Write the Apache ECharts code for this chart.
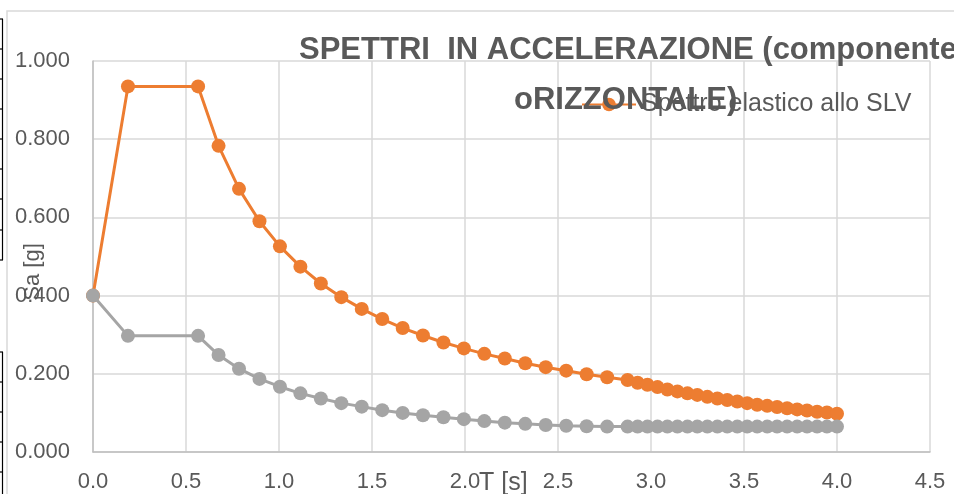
<!DOCTYPE html>
<html>
<head>
<meta charset="utf-8">
<script src="https://cdn.jsdelivr.net/npm/echarts@6/dist/echarts.min.js"></script>
<style>
html,body{margin:0;padding:0;background:#fff;}
#chart{width:954px;height:494px;}
</style>
</head>
<body>
<div id="chart"></div>
<script>
// Periods T [s]
const periods = [0, 0.188, 0.565, 0.675, 0.785, 0.895, 1.005, 1.115, 1.225, 1.335, 1.445, 1.555, 1.665, 1.774, 1.884, 1.994, 2.104, 2.214, 2.324, 2.434, 2.544, 2.654, 2.764, 2.874, 2.928, 2.981, 3.035, 3.088, 3.142, 3.196, 3.249, 3.303, 3.357, 3.410, 3.464, 3.517, 3.571, 3.625, 3.678, 3.732, 3.786, 3.839, 3.893, 3.946, 4.000];
// Spettro elastico allo SLV  Sa [g]
const elastic = [0.400, 0.935, 0.935, 0.783, 0.673, 0.590, 0.526, 0.474, 0.431, 0.396, 0.366, 0.340, 0.317, 0.298, 0.280, 0.265, 0.251, 0.239, 0.227, 0.217, 0.208, 0.199, 0.191, 0.184, 0.177, 0.172, 0.166, 0.160, 0.155, 0.150, 0.146, 0.141, 0.137, 0.133, 0.129, 0.125, 0.121, 0.118, 0.115, 0.112, 0.109, 0.106, 0.103, 0.101, 0.098];
// Spettro di progetto  Sa [g]
const design = [0.400, 0.297, 0.297, 0.248, 0.213, 0.187, 0.167, 0.150, 0.137, 0.125, 0.116, 0.107, 0.100, 0.094, 0.089, 0.084, 0.079, 0.075, 0.072, 0.069, 0.067, 0.066, 0.065, 0.065, 0.065, 0.065, 0.065, 0.065, 0.065, 0.065, 0.065, 0.065, 0.065, 0.065, 0.065, 0.065, 0.065, 0.065, 0.065, 0.065, 0.065, 0.065, 0.065, 0.065, 0.065];
const titleLines = ['SPETTRI  IN ACCELERAZIONE (componente', 'oRIZZONTALE)'];
const seriesNames = ['Spettro elastico allo SLV', 'Spettro di progetto allo SLV'];
const xName = 'T [s]';
const yName = 'Sa [g]';

const FONT = '"Liberation Sans", Arial, sans-serif';
const TXT = '#595959';
const chart = echarts.init(document.getElementById('chart'));

const leftMarks = [];
[19,49,79,109,139,169,199,230,260,352,382,412,442,472].forEach(y => {
  leftMarks.push({type:'line', shape:{x1:0,y1:y,x2:3,y2:y}, style:{stroke:'#000',lineWidth:1.2}, silent:true});
});
leftMarks.push({type:'line', shape:{x1:2.5,y1:19,x2:2.5,y2:260}, style:{stroke:'#000',lineWidth:1.2}, silent:true});
leftMarks.push({type:'line', shape:{x1:2.5,y1:352,x2:2.5,y2:494}, style:{stroke:'#000',lineWidth:1.2}, silent:true});

chart.setOption({
  animation: false,
  backgroundColor: '#fff',
  title: [
    {text: titleLines[0], left: 299, top: 35, padding: 0,
     textStyle: {fontFamily: FONT, fontSize: 31, fontWeight: 'bold', color: TXT}},
    {text: titleLines[1], left: 514, top: 85, padding: 0,
     textStyle: {fontFamily: FONT, fontSize: 31, fontWeight: 'bold', color: TXT}}
  ],
  legend: {
    data: [seriesNames[0]],
    left: 581, top: 92, padding: 0,
    itemWidth: 54, itemHeight: 17,
    textStyle: {fontFamily: FONT, fontSize: 25, color: TXT}
  },
  grid: {left: 93, right: 24, top: 61, bottom: 42},
  xAxis: {
    type: 'value', min: 0, max: 4.5, interval: 0.5,
    axisLine: {lineStyle: {color: '#bfbfbf', width: 1.5}},
    axisTick: {show: false},
    axisLabel: {fontFamily: FONT, fontSize: 22, color: TXT, margin: 19,
      formatter: v => v.toFixed(1)},
    splitLine: {show: true, lineStyle: {color: '#d9d9d9', width: 1.5}}
  },
  yAxis: {
    type: 'value', min: 0, max: 1, interval: 0.2,
    axisLine: {show: true, lineStyle: {color: '#bfbfbf', width: 1.5}},
    axisTick: {show: false},
    axisLabel: {fontFamily: FONT, fontSize: 22, color: TXT, margin: 23,
      formatter: v => v.toFixed(3)},
    splitLine: {show: true, lineStyle: {color: '#d9d9d9', width: 1.5}}
  },
  graphic: [
    {type: 'rect', shape: {x: 7, y: 11, width: 960, height: 500},
     style: {fill: 'none', stroke: '#d9d9d9', lineWidth: 1.5}, silent: true, z: -10},
    ...leftMarks,
    {type: 'text', x: 33, y: 272, rotation: Math.PI / 2,
     style: {text: yName, fontFamily: FONT, fontSize: 22, fill: TXT, align: 'center', verticalAlign: 'middle'}, z: 100},
    {type: 'text', x: 479, y: 471,
     style: {text: xName, fontFamily: FONT, fontSize: 25, fill: TXT, align: 'left', verticalAlign: 'top'}, z: 100}
  ],
  series: [
    {
      name: seriesNames[0], type: 'line',
      data: periods.map((t, i) => [t, elastic[i]]),
      symbol: 'circle', symbolSize: 14,
      itemStyle: {color: '#ED7D31'},
      lineStyle: {color: '#ED7D31', width: 3},
      z: 2
    },
    {
      name: seriesNames[1], type: 'line',
      data: periods.map((t, i) => [t, design[i]]),
      symbol: 'circle', symbolSize: 14,
      itemStyle: {color: '#A5A5A5'},
      lineStyle: {color: '#A5A5A5', width: 3},
      z: 3
    }
  ]
});
</script>
</body>
</html>
